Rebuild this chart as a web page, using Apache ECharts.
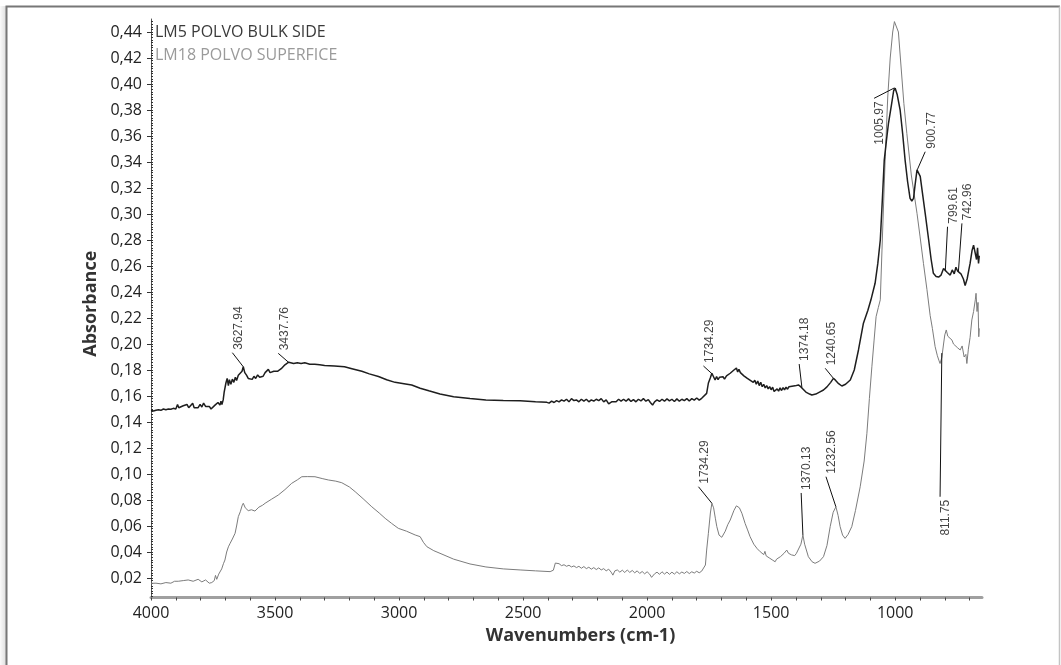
<!DOCTYPE html>
<html>
<head>
<meta charset="utf-8">
<script src="https://cdn.jsdelivr.net/npm/echarts@6/dist/echarts.min.js"></script>
<style>html,body{margin:0;padding:0;background:#fff;}#c{width:1061px;height:665px;}</style>
</head>
<body>
<div id="c"></div>
<script>
// ---- DATA (wavenumber cm-1, absorbance) ----
const seriesNames = ['LM5 POLVO BULK SIDE', 'LM18 POLVO SUPERFICE'];

const bulkSpectrum = [
[4000,0.149],[3990,0.1485],[3980,0.149],[3970,0.1495],[3960,0.149],[3950,0.150],[3940,0.1495],[3930,0.150],
[3920,0.1498],[3910,0.1505],[3900,0.150],[3893,0.1535],[3888,0.151],[3880,0.1515],[3870,0.1525],[3862,0.151],
[3855,0.1535],[3848,0.151],[3840,0.1525],[3832,0.1545],[3826,0.151],[3818,0.1525],[3810,0.151],[3802,0.1535],
[3795,0.1515],[3788,0.1545],[3780,0.152],[3772,0.1505],[3765,0.152],[3758,0.150],[3750,0.1515],[3742,0.153],
[3736,0.152],[3730,0.155],[3726,0.1565],[3722,0.153],[3718,0.156],[3714,0.1535],[3709,0.157],[3705,0.163],
[3698,0.170],[3693,0.1735],[3688,0.168],[3684,0.1725],[3678,0.169],[3672,0.173],[3666,0.1705],[3660,0.1745],
[3655,0.172],[3648,0.176],[3640,0.175],[3633,0.179],[3628,0.1825],[3622,0.178],[3615,0.176],[3608,0.1735],
[3600,0.1748],[3592,0.1728],[3585,0.1752],[3578,0.1735],[3570,0.1762],[3562,0.1745],[3555,0.1758],[3548,0.1752],
[3540,0.178],[3535,0.1795],[3527,0.1805],[3520,0.178],[3505,0.179],[3490,0.179],[3475,0.181],[3460,0.184],
[3445,0.186],[3438,0.1865],[3425,0.185],[3410,0.1855],[3395,0.185],[3380,0.1855],[3360,0.1845],[3340,0.1845],
[3320,0.184],[3300,0.1835],[3260,0.183],[3220,0.1825],[3190,0.181],[3150,0.179],[3120,0.177],[3083,0.175],
[3050,0.1725],[3016,0.1705],[2980,0.1695],[2949,0.1685],[2915,0.166],[2880,0.164],[2835,0.1615],[2780,0.1595],
[2714,0.158],[2650,0.157],[2580,0.1565],[2512,0.1564],[2450,0.1555],[2404,0.1551],[2395,0.1545],[2385,0.156],
[2375,0.155],[2365,0.1565],[2355,0.1555],[2345,0.157],[2335,0.156],[2325,0.1575],[2315,0.1555],[2305,0.158],
[2295,0.1565],[2285,0.157],[2275,0.1555],[2265,0.1575],[2255,0.156],[2245,0.1575],[2235,0.1555],[2225,0.157],
[2215,0.156],[2205,0.1575],[2195,0.1565],[2185,0.158],[2175,0.1555],[2165,0.157],[2155,0.154],[2149,0.1532],
[2143,0.1555],[2135,0.157],[2125,0.1555],[2115,0.1575],[2105,0.156],[2095,0.1575],[2085,0.156],[2075,0.1578],
[2065,0.1558],[2055,0.1572],[2045,0.1555],[2035,0.1575],[2025,0.1562],[2015,0.158],[2005,0.156],[1995,0.1572],
[1987,0.155],[1978,0.153],[1970,0.1555],[1960,0.157],[1950,0.1558],[1940,0.1575],[1930,0.156],[1920,0.1578],
[1910,0.1562],[1900,0.1575],[1890,0.1558],[1880,0.1578],[1870,0.156],[1860,0.1575],[1850,0.1565],[1840,0.158],
[1830,0.1562],[1820,0.158],[1810,0.1568],[1800,0.1585],[1790,0.1568],[1780,0.1582],[1773,0.158],[1760,0.162],
[1753,0.170],[1745,0.174],[1739,0.1775],[1733,0.176],[1726,0.1723],[1720,0.175],[1714,0.1725],[1708,0.1745],
[1700,0.173],[1694,0.1748],[1688,0.173],[1680,0.1755],[1672,0.1752],[1665,0.1775],[1658,0.1768],[1650,0.180],
[1645,0.1785],[1640,0.1815],[1635,0.1785],[1630,0.1805],[1624,0.178],[1618,0.1775],[1610,0.1755],[1603,0.1765],
[1596,0.1735],[1590,0.1742],[1584,0.172],[1578,0.1728],[1572,0.1705],[1566,0.1722],[1560,0.169],[1554,0.1715],
[1548,0.168],[1542,0.1705],[1536,0.1672],[1530,0.169],[1524,0.1662],[1518,0.168],[1512,0.1655],[1506,0.1672],
[1500,0.1648],[1494,0.1668],[1488,0.1635],[1482,0.162],[1476,0.1655],[1470,0.1638],[1464,0.1662],[1458,0.1642],
[1452,0.1665],[1446,0.1648],[1440,0.1668],[1434,0.1652],[1428,0.1672],[1422,0.1658],[1416,0.1675],[1410,0.166],
[1404,0.1678],[1398,0.1665],[1390,0.1685],[1380,0.167],[1374,0.166],[1360,0.163],[1345,0.1615],[1336,0.1608],
[1320,0.1615],[1305,0.163],[1289,0.1646],[1275,0.167],[1260,0.1705],[1249,0.1736],[1240,0.172],[1228,0.1695],
[1215,0.1677],[1200,0.169],[1181,0.1723],[1165,0.180],[1148,0.1954],[1128,0.216],[1110,0.226],[1098,0.2338],
[1081,0.2467],[1070,0.262],[1060,0.280],[1052,0.310],[1044,0.3415],[1035,0.357],[1027,0.3698],[1015,0.384],
[1006,0.395],[1000,0.3967],[992,0.392],[980,0.380],[970,0.362],[960,0.3415],[950,0.325],[940,0.312],
[933,0.310],[926,0.312],[920,0.322],[912,0.334],[905,0.333],[899,0.329],[890,0.316],[879,0.3005],
[865,0.280],[855,0.265],[846,0.2544],[835,0.252],[825,0.2515],[815,0.253],[805,0.258],[798,0.2595],
[790,0.255],[782,0.2565],[778,0.253],[770,0.257],[762,0.254],[755,0.259],[748,0.256],[742,0.2575],
[735,0.254],[725,0.250],[718,0.245],[710,0.250],[703,0.257],[698,0.262],[690,0.272],[684,0.276],
[677,0.2775],[672,0.265],[668,0.274],[664,0.262],[661,0.268]
];

const surfaceSpectrum = [
[4000,0.0159],[3980,0.016],[3960,0.0155],[3940,0.0165],[3920,0.016],[3905,0.0175],[3900,0.019],[3890,0.0175],
[3870,0.018],[3850,0.0185],[3830,0.0175],[3810,0.019],[3795,0.017],[3780,0.0185],[3765,0.016],[3755,0.0165],
[3745,0.018],[3740,0.022],[3735,0.019],[3727,0.023],[3722,0.0236],[3715,0.027],[3708,0.031],[3702,0.0338],
[3695,0.040],[3688,0.044],[3681,0.0467],[3672,0.050],[3661,0.0544],[3655,0.060],[3648,0.0672],[3640,0.071],
[3633,0.0755],[3628,0.0775],[3620,0.074],[3608,0.0718],[3595,0.0725],[3581,0.0715],[3565,0.0745],[3550,0.076],
[3540,0.0775],[3515,0.0805],[3487,0.0838],[3460,0.088],[3433,0.0928],[3410,0.0955],[3392,0.0979],[3370,0.098],
[3339,0.0979],[3310,0.0965],[3285,0.0954],[3255,0.0945],[3231,0.0933],[3200,0.090],[3177,0.0864],[3145,0.081],
[3110,0.0748],[3080,0.070],[3056,0.0659],[3030,0.062],[3003,0.0582],[2970,0.056],[2935,0.0531],[2915,0.0518],
[2902,0.0475],[2888,0.0441],[2860,0.041],[2835,0.039],[2780,0.0345],[2714,0.0308],[2650,0.0285],[2580,0.027],
[2512,0.0262],[2450,0.0255],[2391,0.0249],[2378,0.026],[2370,0.0315],[2362,0.0305],[2355,0.031],[2345,0.0295],
[2335,0.0302],[2325,0.029],[2315,0.0298],[2305,0.0285],[2295,0.0293],[2285,0.028],[2275,0.029],[2265,0.0275],
[2255,0.0288],[2245,0.0272],[2235,0.0283],[2225,0.0268],[2215,0.028],[2205,0.0265],[2195,0.0278],[2185,0.0262],
[2175,0.0272],[2165,0.0255],[2155,0.0268],[2145,0.0245],[2138,0.0222],[2130,0.0255],[2120,0.0262],[2110,0.0245],
[2100,0.026],[2090,0.0242],[2080,0.0262],[2070,0.0243],[2060,0.0258],[2050,0.024],[2040,0.0255],[2030,0.0235],
[2020,0.025],[2010,0.0232],[2000,0.0248],[1990,0.023],[1982,0.0205],[1976,0.0192],[1970,0.0232],[1960,0.0245],
[1950,0.0228],[1940,0.0248],[1930,0.023],[1920,0.0246],[1910,0.0228],[1900,0.0245],[1890,0.023],[1880,0.0248],
[1870,0.0232],[1860,0.0246],[1850,0.0235],[1840,0.025],[1830,0.0234],[1820,0.0248],[1810,0.0238],[1800,0.0252],
[1790,0.024],[1780,0.0253],[1773,0.0249],[1765,0.030],[1760,0.0415],[1753,0.0544],[1745,0.070],[1739,0.0775],
[1732,0.074],[1725,0.066],[1719,0.0595],[1710,0.053],[1699,0.0513],[1685,0.056],[1675,0.061],[1665,0.0646],
[1650,0.072],[1640,0.0755],[1636,0.0762],[1628,0.074],[1618,0.0698],[1605,0.062],[1595,0.057],[1585,0.0518],
[1570,0.046],[1562,0.0445],[1556,0.0425],[1550,0.044],[1544,0.0402],[1538,0.041],[1530,0.038],[1525,0.0405],
[1520,0.037],[1514,0.0385],[1508,0.0355],[1502,0.037],[1496,0.034],[1490,0.0355],[1484,0.0325],[1478,0.0345],
[1470,0.034],[1462,0.0365],[1455,0.036],[1448,0.039],[1442,0.038],[1437,0.0415],[1430,0.039],[1425,0.040],
[1418,0.0378],[1412,0.0388],[1405,0.0372],[1398,0.039],[1390,0.040],[1380,0.046],[1372,0.0531],[1365,0.046],
[1350,0.0364],[1335,0.0325],[1323,0.0313],[1305,0.033],[1289,0.0364],[1275,0.045],[1262,0.0595],[1250,0.0705],
[1239,0.0748],[1230,0.068],[1222,0.0595],[1212,0.053],[1202,0.0505],[1190,0.0535],[1175,0.0595],[1160,0.072],
[1141,0.0902],[1125,0.110],[1114,0.1313],[1104,0.158],[1094,0.1825],[1085,0.203],[1077,0.221],[1068,0.228],
[1060,0.234],[1050,0.290],[1040,0.344],[1030,0.390],[1020,0.420],[1010,0.440],[1003,0.448],[997,0.448],
[987,0.440],[975,0.410],[965,0.385],[953,0.362],[935,0.330],[912,0.3005],[900,0.283],[886,0.262],
[872,0.242],[859,0.222],[850,0.212],[839,0.198],[830,0.191],[823,0.187],[819,0.185],[812,0.1895],
[805,0.200],[800,0.207],[794,0.2108],[788,0.206],[780,0.2045],[771,0.203],[765,0.200],[758,0.2015],
[748,0.197],[738,0.1954],[730,0.1985],[722,0.190],[715,0.192],[711,0.185],[705,0.196],[698,0.205],
[691,0.2185],[684,0.225],[677,0.234],[674,0.239],[670,0.225],[666,0.232],[663,0.2056],[661,0.212]
];

// peak annotations: label text, peak point, leader end point, text direction
const peakLabels = ['3627.94','3437.76','1734.29','1374.18','1240.65','1005.97','900.77','799.61','742.96',
                    '1734.29','1370.13','1232.56','811.75'];
const peakFrom = [[3628,0.1825],[3446,0.186],[1738,0.1770],[1376,0.1665],[1249,0.1736],[1003,0.3970],[911,0.334],[798,0.2560],[745,0.2560],
                  [1739,0.0775],[1372,0.0531],[1239,0.0748],[812,0.1930]];
const peakTo = [[3672,0.1933],[3487,0.1928],[1773,0.1831],[1387,0.1846],[1282,0.1813],[1085,0.3890],[879,0.3479],[789,0.2902],[731,0.2928],
                [1793,0.0902],[1379,0.0854],[1279,0.0979],[819,0.0825]];
const peakDir = ['up','up','up','up','up','down','up','up','up','up','up','up','down'];

// axis ticks
const xMin = 650, xMax = 4000, yMin = 0.005, yMax = 0.45;
const xLabelValues = [1000,1500,2000,2500,3000,3500,4000];
const xTickValues = [700,800,900,1000,1100,1200,1300,1400,1500,1600,1700,1800,1900,2000,2100,2200,2300,2400,2500,
                     2600,2700,2800,2900,3000,3100,3200,3300,3400,3500,3600,3700,3800,3900,4000];
const yLabelValues = [0.02,0.04,0.06,0.08,0.10,0.12,0.14,0.16,0.18,0.20,0.22,0.24,0.26,0.28,0.30,0.32,0.34,0.36,0.38,0.40,0.42,0.44];
const yMinorTicks = [];
for (let i = 3; i <= 224; i++) yMinorTicks.push(+(i * 0.002).toFixed(3));

// ---- CHART ----
const chart = echarts.init(document.getElementById('c'), null, {renderer: 'canvas'});
const darkColor = '#1e1e1e', lightColor = '#7c7c7c';

const leaderSeries = peakLabels.map((t, i) => ({
  type: 'line', xAxisIndex: 0, yAxisIndex: 0, silent: true, symbol: 'none', animation: false,
  data: [peakFrom[i], peakTo[i]], lineStyle: {color: '#111', width: 1}, z: 4
}));

const labelSeries = {
  type: 'scatter', xAxisIndex: 0, yAxisIndex: 0, silent: true, symbolSize: 0, animation: false, z: 5,
  itemStyle: {color: 'rgba(0,0,0,0)'},
  data: peakLabels.map((t, i) => ({
    value: peakTo[i],
    label: {
      show: true, formatter: t, rotate: 90, position: 'inside',
      align: peakDir[i] === 'up' ? 'left' : 'right', verticalAlign: 'top',
      padding: peakDir[i] === 'up' ? [0, 0, 0, 3] : [0, 3, 0, 0],
      fontFamily: 'Liberation Sans', fontSize: 12, color: '#111'
    }
  }))
};

const option = {
  animation: false,
  backgroundColor: '#fff',
  grid: {left: 151, right: 79, top: 19, bottom: 67.5, containLabel: false},
  legend: [
    {data: [{name: seriesNames[0], textStyle: {color: '#3a3a3a'}}], left: 145, top: 19.5, orient: 'vertical',
     icon: 'none', itemWidth: 0, itemHeight: 14, selectedMode: false,
     textStyle: {fontFamily: 'Open Sans', fontSize: 16}},
    {data: [{name: seriesNames[1], textStyle: {color: '#9a9a9a'}}], left: 145, top: 42, orient: 'vertical',
     icon: 'none', itemWidth: 0, itemHeight: 14, selectedMode: false,
     textStyle: {fontFamily: 'Open Sans', fontSize: 16}}
  ],
  xAxis: [{
    type: 'value', min: xMin, max: xMax, inverse: true,
    name: 'Wavenumbers (cm-1)', nameLocation: 'middle', nameGap: 29,
    nameTextStyle: {fontFamily: 'Open Sans', fontWeight: 'bold', fontSize: 18, color: '#333', padding: [0, 0, 0, 28]},
    axisLine: {show: true, onZero: false, lineStyle: {color: '#a0a0a0', width: 3}},
    axisTick: {show: true, customValues: xTickValues, length: 3, lineStyle: {color: '#444', width: 1}},
    minorTick: {show: false},
    axisLabel: {show: true, customValues: xLabelValues, margin: 8, fontFamily: 'Open Sans', fontSize: 16, color: '#222',
      formatter: v => String(v)},
    splitLine: {show: false}
  }],
  yAxis: [{
    type: 'value', min: yMin, max: yMax,
    name: 'Absorbance', nameLocation: 'middle', nameGap: 49, nameRotate: 90,
    nameTextStyle: {fontFamily: 'Open Sans', fontWeight: 'bold', fontSize: 18, color: '#333', padding: [0, 0, 0, 9]},
    axisLine: {show: true, onZero: false, lineStyle: {color: '#555', width: 1}},
    axisTick: {show: true, customValues: yLabelValues, length: 4, lineStyle: {color: '#333'}},
    axisLabel: {show: true, customValues: yLabelValues, margin: 9, fontFamily: 'Open Sans', fontSize: 16, color: '#222',
      formatter: v => v.toFixed(2).replace('.', ',')},
    splitLine: {show: false}
  }, {
    type: 'value', min: yMin, max: yMax, position: 'left',
    axisLine: {show: false}, axisLabel: {show: false}, splitLine: {show: false},
    axisTick: {show: true, customValues: yMinorTicks, length: 2, inside: true, lineStyle: {color: '#333', width: 1}}
  }],
  graphic: [
    {type: 'rect', silent: true, z: -10, shape: {x: 0, y: 6, width: 6, height: 665},
     style: {fill: new echarts.graphic.LinearGradient(0, 0, 1, 0, [{offset: 0, color: 'rgba(0,0,0,0.02)'}, {offset: 1, color: 'rgba(0,0,0,0.13)'}])}},
    {type: 'polyline', silent: true, z: 10, shape: {points: [[6.5, 665], [6.5, 6.5], [1060, 6.5]]},
     style: {stroke: '#777', lineWidth: 2, fill: null}},
    {type: 'line', silent: true, z: 10, shape: {x1: 1059.5, y1: 6.5, x2: 1059.5, y2: 665},
     style: {stroke: '#c4c4c4', lineWidth: 1.5}}
  ],
  series: [
    {type: 'line', name: seriesNames[1], data: surfaceSpectrum, symbol: 'none', showSymbol: false,
     lineStyle: {color: lightColor, width: 1}, itemStyle: {color: lightColor}, z: 2, silent: true},
    {type: 'line', name: seriesNames[0], data: bulkSpectrum, symbol: 'none', showSymbol: false,
     lineStyle: {color: darkColor, width: 1.5}, itemStyle: {color: darkColor}, z: 3, silent: true},
    ...leaderSeries,
    labelSeries
  ]
};
chart.setOption(option);
</script>
</body>
</html>
